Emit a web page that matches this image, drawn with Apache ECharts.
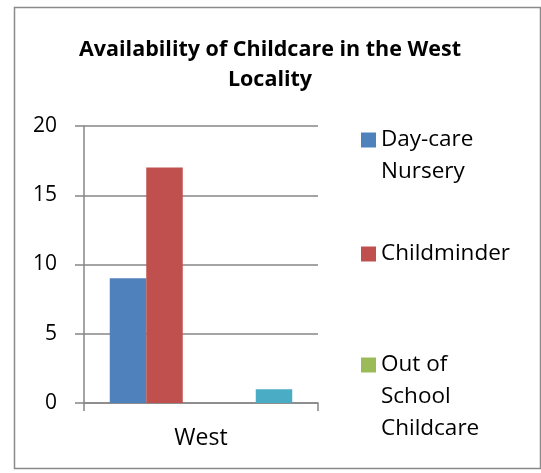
<!DOCTYPE html>
<html>
<head>
<meta charset="utf-8">
<script src="https://cdn.jsdelivr.net/npm/echarts@6/dist/echarts.min.js"></script>
<style>html,body{margin:0;padding:0;background:#fff;}#c{width:541px;height:473px;}</style>
</head>
<body>
<div id="c"></div>
<script>
var titleText = 'Availability of Childcare in the West\nLocality';
var categories = ['West'];
var seriesNames = ['Day-care Nursery', 'Childminder', 'Out of School Childcare', 'Series 4', 'Series 5'];
var legendLabels = ['Day-care\nNursery', 'Childminder', 'Out of\nSchool\nChildcare'];
var dayCare = [9];
var childminder = [17];
var outOfSchool = [0];
var series4 = [0];
var series5 = [1];
var yTicks = [0, 5, 10, 15, 20];
var colors = ['#4F81BD', '#C0504D', '#9BBB59', '#8064A2', '#4BACC6'];

var values = [dayCare, childminder, outOfSchool, series4, series5];
var FONT = 'Open Sans';
var chart = echarts.init(document.getElementById('c'), null, {renderer: 'canvas'});

function mkLegend(i, top) {
  var lines = legendLabels[i].split('\n');
  var pad = [];
  for (var k = 0; k < lines.length - 1; k++) pad.push(' ');
  var txt = pad.concat(lines).join('\n');
  return {
    data: [seriesNames[i]],
    orient: 'vertical',
    left: 361,
    top: top,
    padding: 0,
    itemWidth: 15,
    itemHeight: 15,
    itemGap: 0,
    icon: 'rect',
    selectedMode: false,
    formatter: function () { return txt; },
    textStyle: {
      fontFamily: FONT, fontSize: 22.5, color: '#000', lineHeight: 32
    }
  };
}

var option = {
  animation: false,
  color: colors,
  title: {
    text: titleText,
    left: 265,
    textAlign: 'center',
    top: 30,
    textStyle: {fontFamily: FONT, fontWeight: 'bold', fontSize: 21.5, color: '#000', lineHeight: 30}
  },
  legend: [mkLegend(0, 92), mkLegend(1, 238), mkLegend(2, 285)],
  grid: {left: 84, right: 223, top: 126, bottom: 70, containLabel: false},
  xAxis: {
    type: 'category',
    data: categories,
    axisLine: {lineStyle: {color: '#868686', width: 1.5}},
    axisTick: {show: true, length: 8, lineStyle: {color: '#868686', width: 1.5}},
    axisLabel: {fontFamily: FONT, fontSize: 23, color: '#000', margin: 24}
  },
  yAxis: {
    type: 'value',
    min: yTicks[0],
    max: yTicks[yTicks.length - 1],
    interval: 5,
    axisLine: {show: true, lineStyle: {color: '#868686', width: 1.5}},
    axisTick: {show: true, length: 9, lineStyle: {color: '#868686', width: 1.5}},
    splitLine: {lineStyle: {color: '#868686', width: 1.5}},
    axisLabel: {fontFamily: FONT, fontSize: 21, color: '#000', margin: 27}
  },
  graphic: [{
    type: 'rect',
    shape: {x: 14.5, y: 7.5, width: 526, height: 461},
    style: {fill: 'none', stroke: '#8a8a8a', lineWidth: 1.5},
    silent: true, z: -1
  }],
  series: values.map(function (v, i) {
    return {
      name: seriesNames[i],
      type: 'bar',
      data: v,
      barWidth: 36.5,
      barGap: '0%',
      itemStyle: {color: colors[i]}
    };
  })
};
chart.setOption(option);
</script>
</body>
</html>
